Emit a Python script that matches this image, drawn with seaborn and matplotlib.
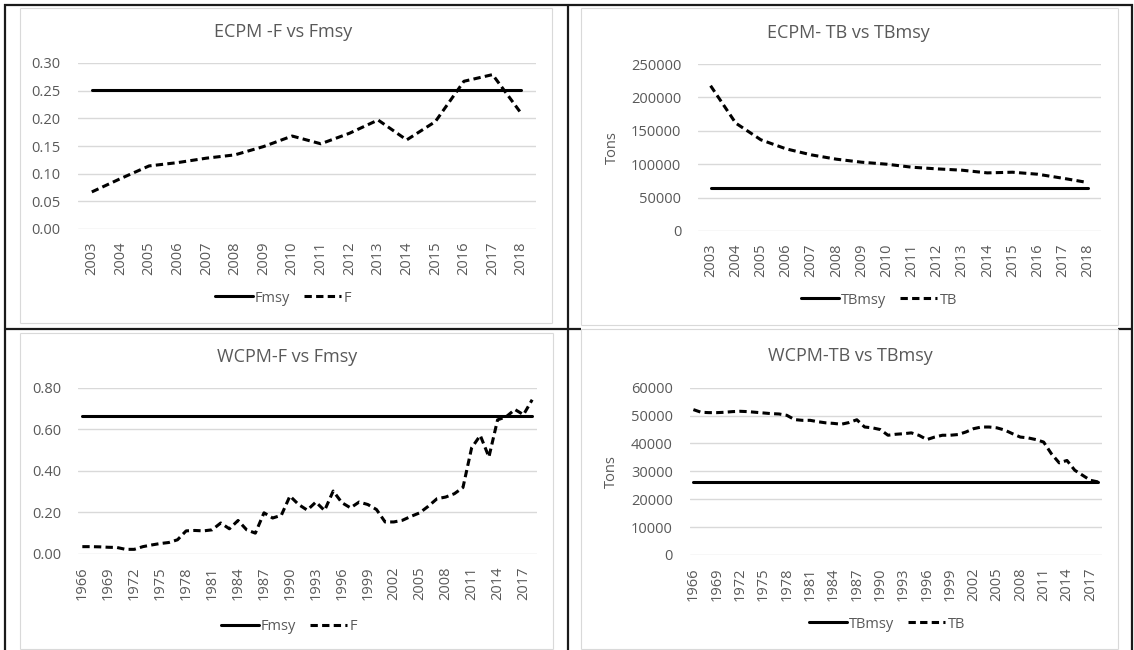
import numpy as np
import matplotlib
matplotlib.use("Agg")
import matplotlib.pyplot as plt
import seaborn as sns
from matplotlib.lines import Line2D
from matplotlib.ticker import FuncFormatter

# ---------------- data ----------------
ecpm_years = [str(y) for y in range(2003, 2019)]
ecpm_f = [0.067, 0.091, 0.114, 0.120, 0.128, 0.134, 0.149, 0.168, 0.154, 0.173,
          0.197, 0.161, 0.194, 0.267, 0.279, 0.209]
ecpm_fmsy = [0.251] * 16
ecpm_tb = [217500, 161500, 136500, 123000, 114000, 107500, 103000, 100000, 95500,
           93000, 91000, 87000, 88000, 85000, 79000, 72500]
ecpm_tbmsy = [64000] * 16

wcpm_years = [str(y) for y in range(1966, 2019)]
wcpm_f = [0.034, 0.034, 0.033, 0.031, 0.030, 0.021, 0.021, 0.034, 0.042, 0.049,
          0.054, 0.067, 0.110, 0.112, 0.110, 0.115, 0.148, 0.120, 0.160, 0.115,
          0.099, 0.197, 0.172, 0.185, 0.278, 0.237, 0.210, 0.249, 0.208, 0.302,
          0.246, 0.221, 0.249, 0.237, 0.213, 0.153, 0.153, 0.161, 0.180, 0.197,
          0.229, 0.265, 0.273, 0.289, 0.319, 0.510, 0.570, 0.466, 0.645, 0.660,
          0.695, 0.670, 0.742]
wcpm_fmsy = [0.662] * 53
wcpm_tb = [52140, 51180, 51060, 51060, 51180, 51420, 51540, 51420, 51180, 50940,
           50700, 50580, 50100, 48560, 48300, 48300, 47800, 47400, 47200, 46900,
           47500, 48500, 45900, 45600, 45000, 42950, 43300, 43500, 43800, 42900,
           41400, 42300, 42950, 42950, 43200, 44100, 45300, 45900, 45900, 45600,
           44800, 43500, 42300, 42000, 41400, 40500, 36300, 33050, 33900, 30400,
           28600, 26800, 26200]
wcpm_tbmsy = [26200] * 53

titles = ["ECPM -F vs Fmsy", "ECPM- TB vs TBmsy", "WCPM-F vs Fmsy", "WCPM-TB vs TBmsy"]

# ---------------- style ----------------
sns.set_style("white")
plt.rcParams['font.family'] = ['Open Sans', 'DejaVu Sans']
TXT = '#595959'
GRID = '#d9d9d9'
W, H = 1134, 650
fig = plt.figure(figsize=(W / 100, H / 100), dpi=100)
fig.patch.set_facecolor('white')


def fx(x):
    return x / W


def fy(y):
    return 1 - y / H


def add_line(x0, y0, x1, y1, color, lw):
    fig.add_artist(Line2D([fx(x0), fx(x1)], [fy(y0), fy(y1)], color=color, lw=lw,
                          transform=fig.transFigure, solid_capstyle='butt'))


# table borders (black)
BL = '#1a1a1a'
add_line(4, 5, 1133, 5, BL, 1.6)
add_line(5, 4, 5, 650, BL, 1.6)
add_line(1132, 4, 1132, 650, BL, 1.6)
add_line(568, 4, 568, 650, BL, 1.6)
add_line(4, 329, 581, 329, BL, 1.6)
add_line(1118, 329, 1133, 329, BL, 1.6)

# faint chart frames
for (x0, y0, x1, y1) in [(20, 8, 552, 323), (581, 8, 1118, 325),
                         (20, 333, 553, 649), (581, 329, 1118, 649)]:
    add_line(x0, y0, x1, y0, GRID, 0.8)
    add_line(x0, y1, x1, y1, GRID, 0.8)
    add_line(x0, y0, x0, y1, GRID, 0.8)
    add_line(x1, y0, x1, y1, GRID, 0.8)

LW = 2.2
DASH = (0, (2.4, 1.4))

panels = [
    dict(box=(77.5, 63, 535.5, 229), labels=ecpm_years, ser=ecpm_f, ref=ecpm_fmsy,
         ylim=(0, 0.30), step=0.05, fmt='{:.2f}', every=1, names=('Fmsy', 'F'),
         title_xy=(283, 32), leg_xy=(283, 298), ylabel=None),
    dict(box=(698, 64, 1100.5, 231), labels=ecpm_years, ser=ecpm_tb, ref=ecpm_tbmsy,
         ylim=(0, 250000), step=50000, fmt='{:.0f}', every=1, names=('TBmsy', 'TB'),
         title_xy=(848, 33), leg_xy=(879, 300), ylabel=(612, 148)),
    dict(box=(78, 387.7, 536.5, 553.7), labels=wcpm_years, ser=wcpm_f, ref=wcpm_fmsy,
         ylim=(0, 0.80), step=0.20, fmt='{:.2f}', every=3, names=('Fmsy', 'F'),
         title_xy=(287, 357), leg_xy=(289, 627), ylabel=None),
    dict(box=(689.5, 387.7, 1102, 555), labels=wcpm_years, ser=wcpm_tb, ref=wcpm_tbmsy,
         ylim=(0, 60000), step=10000, fmt='{:.0f}', every=3, names=('TBmsy', 'TB'),
         title_xy=(850, 356), leg_xy=(887, 624), ylabel=(611, 472)),
]

for p, title in zip(panels, titles):
    x0, y0, x1, y1 = p['box']
    ax = fig.add_axes([fx(x0), fy(y1), (x1 - x0) / W, (y1 - y0) / H])
    idx = np.arange(len(p['labels']))
    sns.lineplot(x=idx, y=p['ref'], ax=ax, color='black', lw=LW, legend=False)
    sns.lineplot(x=idx, y=p['ser'], ax=ax, color='black', lw=LW, linestyle=DASH,
                 legend=False)
    ax.set_xlim(-0.5, len(idx) - 0.5)
    lo, hi = p['ylim']
    ax.set_ylim(lo, hi)
    ax.set_yticks(np.arange(lo, hi + p['step'] / 2, p['step']))
    fmt = p['fmt']
    ax.yaxis.set_major_formatter(FuncFormatter(lambda v, pos, f=fmt: f.format(v)))
    ticks = idx[::p['every']]
    ax.set_xticks(ticks)
    ax.set_xticklabels([p['labels'][i] for i in ticks], rotation=90)
    ax.tick_params(axis='x', length=0, pad=9, labelsize=10.5, labelcolor=TXT)
    ax.tick_params(axis='y', length=0, pad=12, labelsize=10.5, labelcolor=TXT)
    for s in ax.spines.values():
        s.set_visible(False)
    ax.grid(axis='y', color=GRID, lw=1.0)
    ax.grid(axis='x', visible=False)
    ax.set_axisbelow(True)
    ax.set_facecolor('none')
    ax.set_xlabel('')
    ax.set_ylabel('')
    for ln in ax.lines:
        ln.set_clip_on(False)
    fig.text(fx(p['title_xy'][0]), fy(p['title_xy'][1]), title, ha='center',
             va='center', fontsize=13, color=TXT)
    if p['ylabel'] is not None:
        fig.text(fx(p['ylabel'][0]), fy(p['ylabel'][1]), 'Tons', rotation=90,
                 ha='center', va='center', fontsize=10.5, color=TXT)
    handles = [Line2D([], [], color='black', lw=LW),
               Line2D([], [], color='black', lw=LW, linestyle=DASH)]
    ax.legend(handles, list(p['names']), loc='center',
              bbox_to_anchor=(fx(p['leg_xy'][0]), fy(p['leg_xy'][1])),
              bbox_transform=fig.transFigure, ncol=2, frameon=False,
              fontsize=10.5, handlelength=2.6, handletextpad=0.15,
              columnspacing=0.9, labelcolor=TXT, borderaxespad=0, borderpad=0)

fig.savefig('out.png', dpi=100, facecolor='white')
